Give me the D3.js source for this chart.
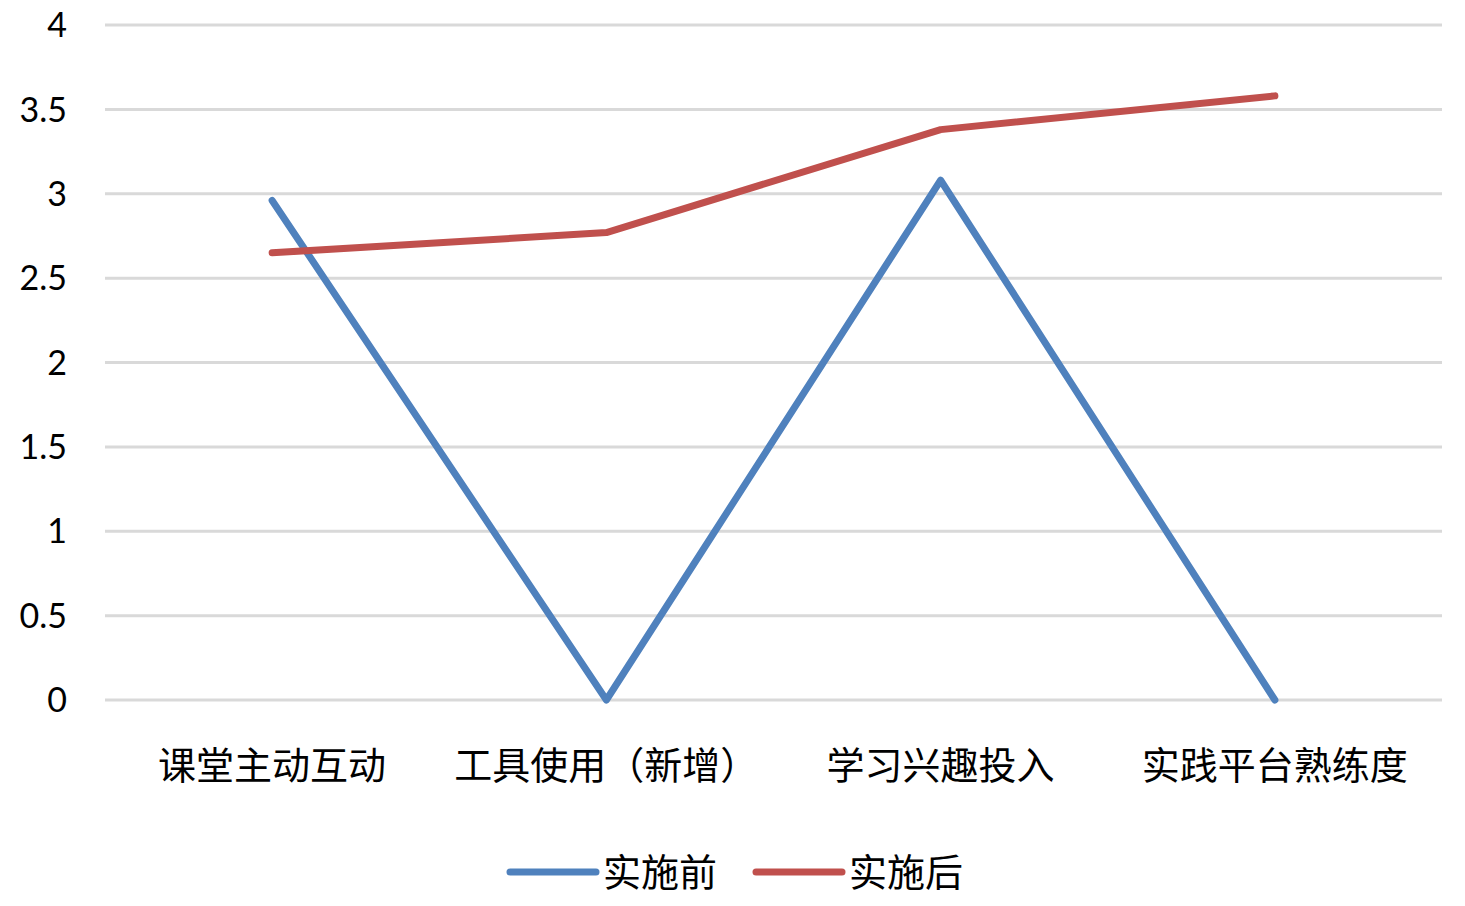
<!DOCTYPE html>
<html>
<head>
<meta charset="utf-8">
<script src="https://cdn.jsdelivr.net/npm/d3@7"></script>
<style>
  body { margin: 0; background: #fff; }
  svg { display: block; }
</style>
</head>
<body>
<svg id="chart" width="1465" height="906"></svg>
<script>
const categories = ['课堂主动互动', '工具使用（新增）', '学习兴趣投入', '实践平台熟练度'];
const seriesNames = ['实施前', '实施后'];
const beforeValues = [2.96, 0, 3.08, 0];
const afterValues = [2.65, 2.77, 3.38, 3.58];
const yTicks = [0, 0.5, 1, 1.5, 2, 2.5, 3, 3.5, 4];
const colors = ['#4F81BD', '#C0504D'];

const svg = d3.select('#chart');
const plotLeft = 105, plotRight = 1442, plotTop = 25, plotBottom = 700;

const x = d3.scaleBand().domain(categories).range([plotLeft, plotRight]);
const y = d3.scaleLinear().domain([0, 4]).range([plotBottom, plotTop]);

// gridlines
svg.append('g').selectAll('line').data(yTicks).enter().append('line')
  .attr('x1', plotLeft).attr('x2', plotRight)
  .attr('y1', d => y(d)).attr('y2', d => y(d))
  .attr('stroke', '#D9D9D9').attr('stroke-width', 3);

// y tick labels
svg.append('g').selectAll('text').data(yTicks).enter().append('text')
  .attr('x', 67).attr('y', d => y(d))
  .attr('dy', '0.36em')
  .attr('text-anchor', 'end')
  .attr('font-family', 'Lato, "Open Sans", sans-serif')
  .attr('font-size', 34)
  .attr('fill', '#000')
  .text(d => d);

// category labels
svg.append('g').selectAll('text').data(categories).enter().append('text')
  .attr('x', d => x(d) + x.bandwidth() / 2)
  .attr('y', 765).attr('dy', '0.36em')
  .attr('text-anchor', 'middle')
  .attr('font-family', '"Noto Sans CJK SC", sans-serif')
  .attr('font-size', 38)
  .attr('fill', '#000')
  .text(d => d);

// lines
const line = d3.line()
  .x((d, i) => x(categories[i]) + x.bandwidth() / 2)
  .y(d => y(d));

[beforeValues, afterValues].forEach((vals, k) => {
  svg.append('path')
    .datum(vals)
    .attr('d', line)
    .attr('fill', 'none')
    .attr('stroke', colors[k])
    .attr('stroke-width', 7)
    .attr('stroke-linecap', 'round')
    .attr('stroke-linejoin', 'round');
});

// legend
const legendX = [510, 756];
const legend = svg.append('g').selectAll('g').data(seriesNames).enter().append('g')
  .attr('transform', (d, i) => `translate(${legendX[i]}, 872)`);
legend.append('line')
  .attr('x1', 0).attr('x2', 86).attr('y1', 0).attr('y2', 0)
  .attr('stroke', (d, i) => colors[i])
  .attr('stroke-width', 7)
  .attr('stroke-linecap', 'round');
legend.append('text')
  .attr('x', 93).attr('y', 0).attr('dy', '0.36em')
  .attr('font-family', '"Noto Sans CJK SC", sans-serif')
  .attr('font-size', 38)
  .attr('fill', '#000')
  .text(d => d);
</script>
</body>
</html>
